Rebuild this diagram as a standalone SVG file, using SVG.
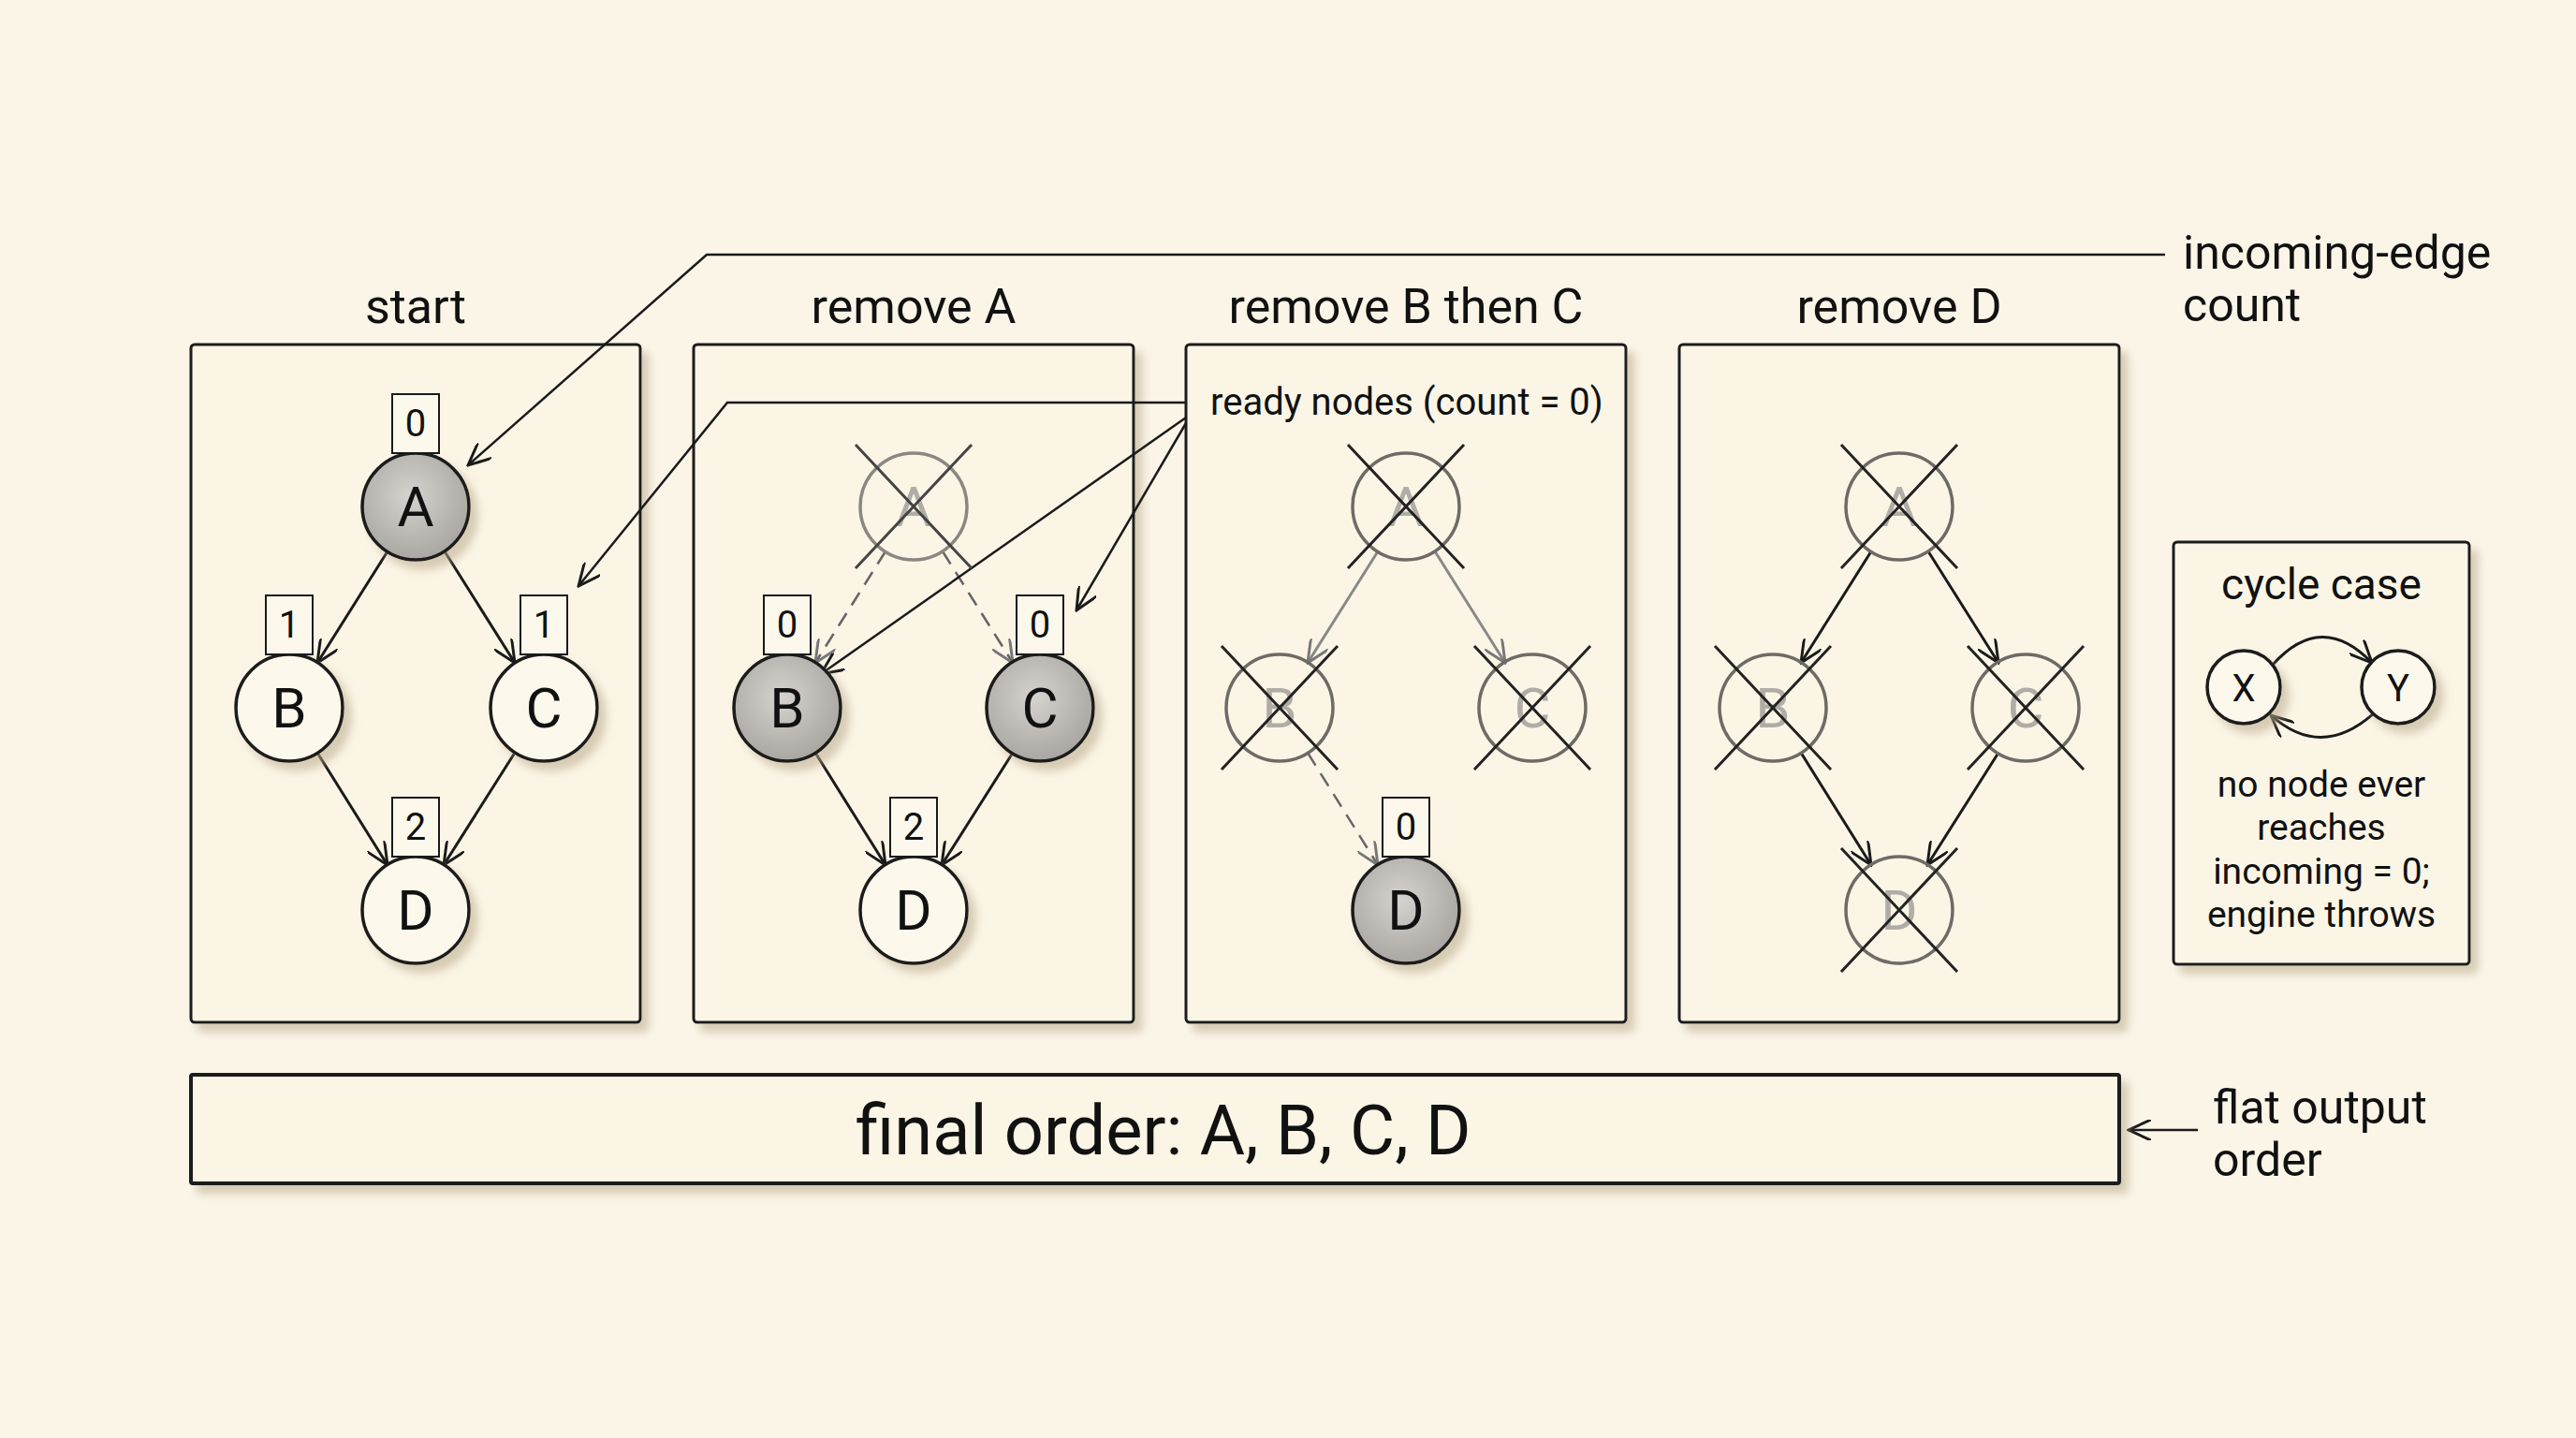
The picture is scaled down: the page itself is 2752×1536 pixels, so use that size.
<svg xmlns="http://www.w3.org/2000/svg" width="2752" height="1536" viewBox="0 0 2752 1536">
<style>
text{font-family:Roboto,"Liberation Sans",sans-serif;fill:#111}
.title{font-size:52px;text-anchor:middle}
.lbl{font-size:50px;text-anchor:start}
.panel{fill:#fbf5e6;stroke:#1a1a1a;stroke-width:3;filter:url(#sh)}
.node{fill:#fdf8ec;stroke:#1a1a1a;stroke-width:3.5;filter:url(#sh)}
.ready{fill:url(#gr);stroke:#1a1a1a;stroke-width:3.5;filter:url(#sh)}
.gone{fill:none;stroke:#6e6b66;stroke-width:3.5}
.ntxt{font-size:60px;text-anchor:middle}
.gtxt{font-size:60px;text-anchor:middle;fill:#b0ada6}
.cnt{fill:#fdf8ec;stroke:#1a1a1a;stroke-width:2}
.ctxt{font-size:40px;text-anchor:middle}
.x{stroke:#222;stroke-width:3}
.xl{stroke:#444;stroke-width:3}
.e{stroke:#1a1a1a;stroke-width:3;fill:none;marker-end:url(#ar)}
.eg{stroke:#888;stroke-width:3;fill:none;marker-end:url(#arg)}
.ed{stroke:#666;stroke-width:2.5;fill:none;stroke-dasharray:16 10;marker-end:url(#arg)}
</style>
<defs>
<filter id="sh" x="-20%" y="-20%" width="150%" height="150%"><feDropShadow dx="8" dy="9" stdDeviation="5" flood-color="#b8a888" flood-opacity="0.55"/></filter>
<radialGradient id="gr" cx="0.45" cy="0.4" r="0.6"><stop offset="0" stop-color="#d6d3ce"/><stop offset="1" stop-color="#aaa7a2"/></radialGradient>
<marker id="ar" viewBox="0 0 14 12" refX="13" refY="6" markerWidth="26" markerHeight="22" markerUnits="userSpaceOnUse" orient="auto"><path d="M0,0 L13,6 L0,12" fill="none" stroke="#1a1a1a" stroke-width="1.6"/></marker>
<marker id="arg" viewBox="0 0 14 12" refX="13" refY="6" markerWidth="26" markerHeight="22" markerUnits="userSpaceOnUse" orient="auto"><path d="M0,0 L13,6 L0,12" fill="none" stroke="#777" stroke-width="1.6"/></marker>
</defs>
<rect width="2752" height="1536" fill="#fbf5e8"/>

<g id="titles">
<text class="title" x="444" y="345">start</text>
<text class="title" x="976" y="345">remove A</text>
<text class="title" x="1502" y="345">remove B then C</text>
<text class="title" x="2029" y="345">remove D</text>
</g>

<g id="panels">
<rect class="panel" x="204" y="368" width="480" height="724" rx="4"/>
<rect class="panel" x="741" y="368" width="470" height="724" rx="4"/>
<rect class="panel" x="1267" y="368" width="470" height="724" rx="4"/>
<rect class="panel" x="1794" y="368" width="470" height="724" rx="4"/>
<rect class="panel" x="2322" y="579" width="316" height="451" rx="4"/>
</g>

<g id="connectors">
<path class="e" d="M414,589 L339,708"/>
<path class="e" d="M475,589 L550,708"/>
<path class="e" d="M339,804 L414,924"/>
<path class="e" d="M550,804 L474,924"/>
<path class="ed" d="M946,589 L871,708"/>
<path class="ed" d="M1007,589 L1082,708"/>
<path class="e" d="M871,804 L946,924"/>
<path class="e" d="M1082,804 L1006,924"/>
<path class="eg" d="M1472,589 L1397,708"/>
<path class="eg" d="M1533,589 L1608,708"/>
<path class="ed" d="M1397,804 L1472,924"/>
<path class="e" d="M1999,589 L1924,708"/>
<path class="e" d="M2060,589 L2135,708"/>
<path class="e" d="M1924,804 L1999,924"/>
<path class="e" d="M2135,804 L2059,924"/>
<path class="e" style="stroke-width:2.5" d="M2313,272 L755,272 L500,497"/>
<path class="e" style="stroke-width:2.5" d="M1267,430 L777,430 L618,626"/>
<path class="e" style="stroke-width:2.5" d="M1267,446 L877,720"/>
<path class="e" style="stroke-width:2.5" d="M1267,452 L1150,652"/>
<path class="e" style="stroke-width:2.5" d="M2348,1207 L2274,1207"/>
<path class="e" d="M2428,710 Q2480,652 2534,708"/>
<path class="e" d="M2536,762 Q2480,812 2426,764"/>
</g>

<g id="panel1">
<g id="p1-A"><circle class="ready" cx="444" cy="541" r="57"/><text class="ntxt" x="444" y="562">A</text><rect class="cnt" x="419" y="421" width="50" height="63"/><text class="ctxt" x="444" y="466">0</text></g>
<g id="p1-B"><circle class="node" cx="309" cy="756" r="57"/><text class="ntxt" x="309" y="777">B</text><rect class="cnt" x="284" y="636" width="50" height="63"/><text class="ctxt" x="309" y="681">1</text></g>
<g id="p1-C"><circle class="node" cx="581" cy="756" r="57"/><text class="ntxt" x="581" y="777">C</text><rect class="cnt" x="556" y="636" width="50" height="63"/><text class="ctxt" x="581" y="681">1</text></g>
<g id="p1-D"><circle class="node" cx="444" cy="972" r="57"/><text class="ntxt" x="444" y="993">D</text><rect class="cnt" x="419" y="852" width="50" height="63"/><text class="ctxt" x="444" y="897">2</text></g>
</g>

<g id="panel2">
<g id="p2-A"><circle class="gone" cx="976" cy="541" r="57" style="stroke:#8a8782"/><text class="gtxt" x="976" y="562">A</text><path class="xl" d="M914,475 L1038,607 M1038,475 L914,607"/></g>
<g id="p2-B"><circle class="ready" cx="841" cy="756" r="57"/><text class="ntxt" x="841" y="777">B</text><rect class="cnt" x="816" y="636" width="50" height="63"/><text class="ctxt" x="841" y="681">0</text></g>
<g id="p2-C"><circle class="ready" cx="1111" cy="756" r="57"/><text class="ntxt" x="1111" y="777">C</text><rect class="cnt" x="1086" y="636" width="50" height="63"/><text class="ctxt" x="1111" y="681">0</text></g>
<g id="p2-D"><circle class="node" cx="976" cy="972" r="57"/><text class="ntxt" x="976" y="993">D</text><rect class="cnt" x="951" y="852" width="50" height="63"/><text class="ctxt" x="976" y="897">2</text></g>
</g>

<g id="panel3">
<g id="p3-A"><circle class="gone" cx="1502" cy="541" r="57"/><text class="gtxt" x="1502" y="562">A</text><path class="x" d="M1440,475 L1564,607 M1564,475 L1440,607"/></g>
<g id="p3-B"><circle class="gone" cx="1367" cy="756" r="57"/><text class="gtxt" x="1367" y="777">B</text><path class="x" d="M1305,690 L1429,822 M1429,690 L1305,822"/></g>
<g id="p3-C"><circle class="gone" cx="1637" cy="756" r="57"/><text class="gtxt" x="1637" y="777">C</text><path class="x" d="M1575,690 L1699,822 M1699,690 L1575,822"/></g>
<g id="p3-D"><circle class="ready" cx="1502" cy="972" r="57"/><text class="ntxt" x="1502" y="993">D</text><rect class="cnt" x="1477" y="852" width="50" height="63"/><text class="ctxt" x="1502" y="897">0</text></g>
<text class="lbl" style="font-size:40px" x="1293" y="443">ready nodes (count = 0)</text>
</g>

<g id="panel4">
<g id="p4-A"><circle class="gone" cx="2029" cy="541" r="57"/><text class="gtxt" x="2029" y="562">A</text><path class="x" d="M1967,475 L2091,607 M2091,475 L1967,607"/></g>
<g id="p4-B"><circle class="gone" cx="1894" cy="756" r="57"/><text class="gtxt" x="1894" y="777">B</text><path class="x" d="M1832,690 L1956,822 M1956,690 L1832,822"/></g>
<g id="p4-C"><circle class="gone" cx="2164" cy="756" r="57"/><text class="gtxt" x="2164" y="777">C</text><path class="x" d="M2102,690 L2226,822 M2226,690 L2102,822"/></g>
<g id="p4-D"><circle class="gone" cx="2029" cy="972" r="57"/><text class="gtxt" x="2029" y="993">D</text><path class="x" d="M1967,906 L2091,1038 M2091,906 L1967,1038"/></g>
</g>

<g id="cycle">
<text class="title" style="font-size:46px" x="2480" y="640">cycle case</text>
<g id="cX"><circle class="node" cx="2397" cy="734" r="39"/><text class="ctxt" x="2397" y="749">X</text></g>
<g id="cY"><circle class="node" cx="2562" cy="734" r="39"/><text class="ctxt" x="2562" y="749">Y</text></g>
<text class="title" style="font-size:39px" x="2480" y="851">no node ever</text>
<text class="title" style="font-size:39px" x="2480" y="897">reaches</text>
<text class="title" style="font-size:39px" x="2480" y="944">incoming = 0;</text>
<text class="title" style="font-size:39px" x="2480" y="990">engine throws</text>
</g>

<g id="final">
<rect class="panel" x="204" y="1148" width="2060" height="116" rx="2" style="stroke-width:4"/>
<text class="title" style="font-size:74px" x="1243" y="1233">final order: A, B, C, D</text>
</g>

<g id="notes">
<text class="lbl" x="2332" y="287">incoming-edge</text>
<text class="lbl" x="2332" y="343">count</text>
<text class="lbl" x="2364" y="1200">flat output</text>
<text class="lbl" x="2364" y="1256">order</text>
</g>
</svg>
